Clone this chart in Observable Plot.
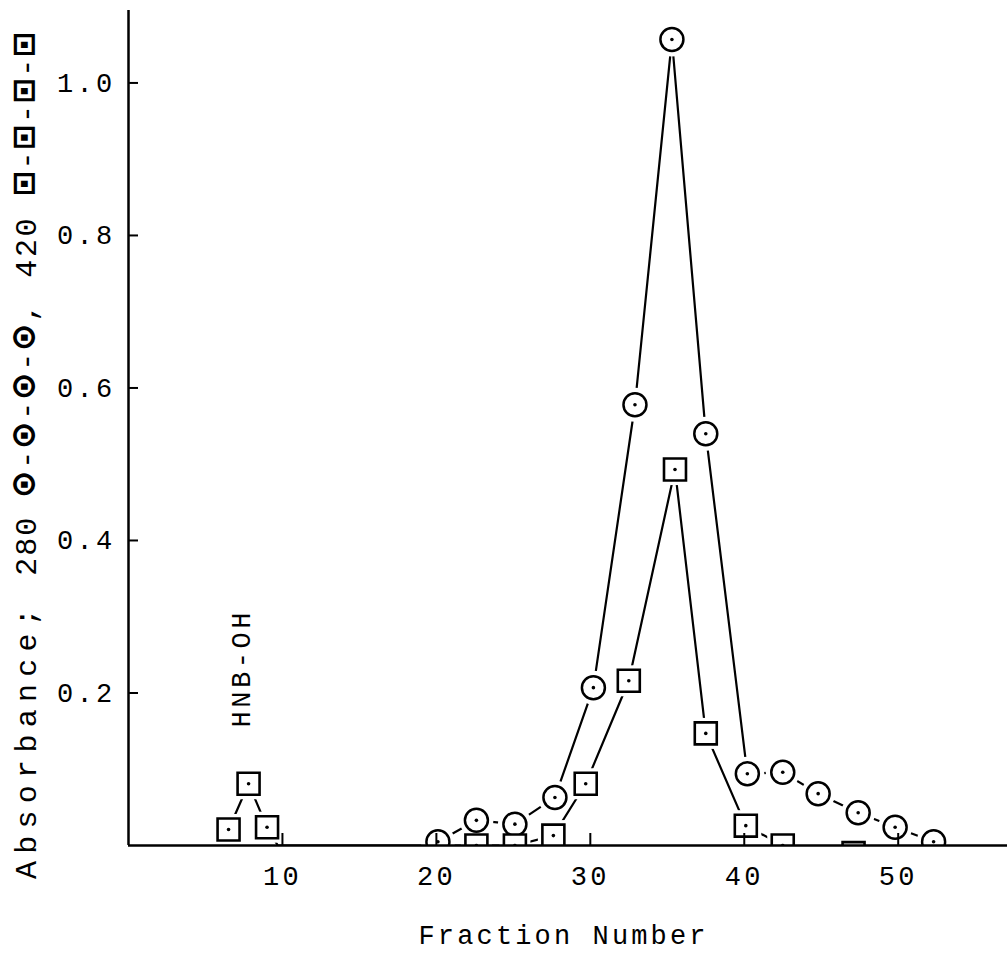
<!DOCTYPE html>
<html>
<head>
<meta charset="utf-8">
<script src="https://cdn.jsdelivr.net/npm/d3@7"></script>
<script src="https://cdn.jsdelivr.net/npm/@observablehq/plot@0.6"></script>
<style>
  html, body { margin: 0; padding: 0; background: #fff; }
  #chart svg { display: block; }
</style>
</head>
<body>
<div id="chart"></div>
<script>
// Absorbance at 280 nm (circles) per fraction
const fraction280 = [20.1, 22.6, 25.1, 27.7, 30.2, 32.9, 35.3, 37.5, 40.2, 42.5, 44.8, 47.4, 49.8, 52.3];
const abs280 = [0.005, 0.033, 0.028, 0.063, 0.207, 0.578, 1.057, 0.540, 0.094, 0.096, 0.068, 0.043, 0.024, 0.005];

// Absorbance at 420 nm (squares) per fraction
const fraction420 = [6.5, 7.8, 9.0, 22.6, 25.1, 27.6, 29.7, 32.5, 35.5, 37.5, 40.1, 42.5, 47.1];
const abs420 = [0.021, 0.081, 0.024, 0, 0, 0.013, 0.081, 0.216, 0.493, 0.147, 0.026, 0, -0.01];

// the 420 trace returns to the baseline after the HNB-OH peak (no symbol there)
const baseline420 = [{fraction: 9.7, absorbance: 0}];

const xTicks = [10, 20, 30, 40, 50];
const yTicks = [0.2, 0.4, 0.6, 0.8, 1.0];
const xLabel = "Fraction Number";
// y label pieces, each with the length it occupies along the axis
const yLabelParts = ["Absorbance; ", "280 ", "\u2299-\u2299-\u2299-\u2299, ", "420 ", "\u22A1-\u22A1-\u22A1-\u22A1"];
const yLabelLengths = [296, 78, 214, 80, 162];
const yLabel = yLabelParts.join("");
const annotations = [{label: "HNB-OH", fraction: 7.3, absorbance: 0.23}];

const s280 = fraction280.map((f, i) => ({fraction: f, absorbance: abs280[i]}));
const s420 = fraction420.map((f, i) => ({fraction: f, absorbance: abs420[i]}));
const line420 = [...s420, ...baseline420].sort((a, b) => a.fraction - b.fraction);

const W = 1007, H = 956;
const mTop = 10, mRight = 0, mBottom = 111, mLeft = 128;
const plotW = W - mLeft - mRight, plotH = H - mTop - mBottom;
const ink = "#000";
const xy = {x: "fraction", y: "absorbance"};

const chart = Plot.plot({
  width: W, height: H,
  marginTop: mTop, marginRight: mRight, marginBottom: mBottom, marginLeft: mLeft,
  style: {fontFamily: "'Liberation Mono', 'DejaVu Sans Mono', monospace", fontSize: "27px", color: ink, background: "#fff"},
  x: {domain: [0, 57.1]},
  y: {domain: [0, 1.095]},
  marks: [
    // connecting lines
    Plot.line(line420, {...xy, stroke: ink, strokeWidth: 2.2, clip: true}),
    Plot.line(s280, {...xy, stroke: ink, strokeWidth: 2.2, clip: true}),
    // white halos leave a small gap between lines and symbols
    Plot.dot(s280, {...xy, r: 17, fill: "#fff", clip: true}),
    Plot.dot(s420, {...xy, symbol: "square", r: 17.5, fill: "#fff", clip: true}),
    // symbols
    Plot.dot(s280, {...xy, r: 11.5, fill: "#fff", stroke: ink, strokeWidth: 2.5, clip: true}),
    Plot.dot(s420, {...xy, symbol: "square", r: 12.4, fill: "#fff", stroke: ink, strokeWidth: 2.6, clip: true}),
    Plot.dot([...s280, ...s420], {...xy, r: 1.8, fill: ink, clip: true}),
    // axes
    Plot.ruleX([0], {stroke: ink, strokeWidth: 2.5}),
    Plot.ruleY([0], {stroke: ink, strokeWidth: 2.5}),
    Plot.tickX(xTicks, {x: d => d, insetTop: plotH - 12, stroke: ink, strokeWidth: 2}),
    Plot.tickY(yTicks, {y: d => d, insetRight: plotW - 10, stroke: ink, strokeWidth: 2}),
    Plot.axisX({ticks: xTicks, tickSize: 0, tickPadding: 20, tickFormat: d => String(d), label: null, fontSize: 27}),
    Plot.axisY({ticks: yTicks, tickSize: 0, tickPadding: 13, tickFormat: d3.format(".1f"), label: null, fontSize: 27}),
    // labels
    Plot.text([yLabel], {frameAnchor: "left", textAnchor: "middle", rotate: -90, dx: -102, dy: 28, fontSize: 30}),
    Plot.text([xLabel], {frameAnchor: "bottom", dx: -6, dy: 98, fontSize: 27}),
    Plot.text(annotations, {...xy, text: "label", rotate: -90, fontSize: 27})
  ]
});

const svg = d3.select(chart);
svg.selectAll("text").style("letter-spacing", "3.3px");

// y label: larger plotting symbols, each piece stretched to its length
const yText = svg.selectAll("text").filter(function () { return this.textContent === yLabel; });
yText.style("letter-spacing", "0px").text(null);
yLabelParts.forEach((part, k) => {
  const piece = yText.append("tspan").attr("textLength", yLabelLengths[k]).attr("lengthAdjust", "spacing");
  for (const run of part.split(/([\u2299\u22A1])/)) {
    if (!run) continue;
    const isSymbol = /[\u2299\u22A1]/.test(run);
    piece.append("tspan").text(run)
      .style("font-size", isSymbol ? "38px" : null)
      .style("font-weight", isSymbol ? "bold" : null);
  }
});

svg.selectAll("text").filter(function () { return this.textContent === xLabel; })
  .style("letter-spacing", "0px").attr("textLength", 287).attr("lengthAdjust", "spacing");
svg.selectAll("text").filter(function () { return this.textContent === "HNB-OH"; })
  .style("letter-spacing", "0px").attr("textLength", 115).attr("lengthAdjust", "spacing");

document.getElementById("chart").append(chart);
</script>
</body>
</html>
